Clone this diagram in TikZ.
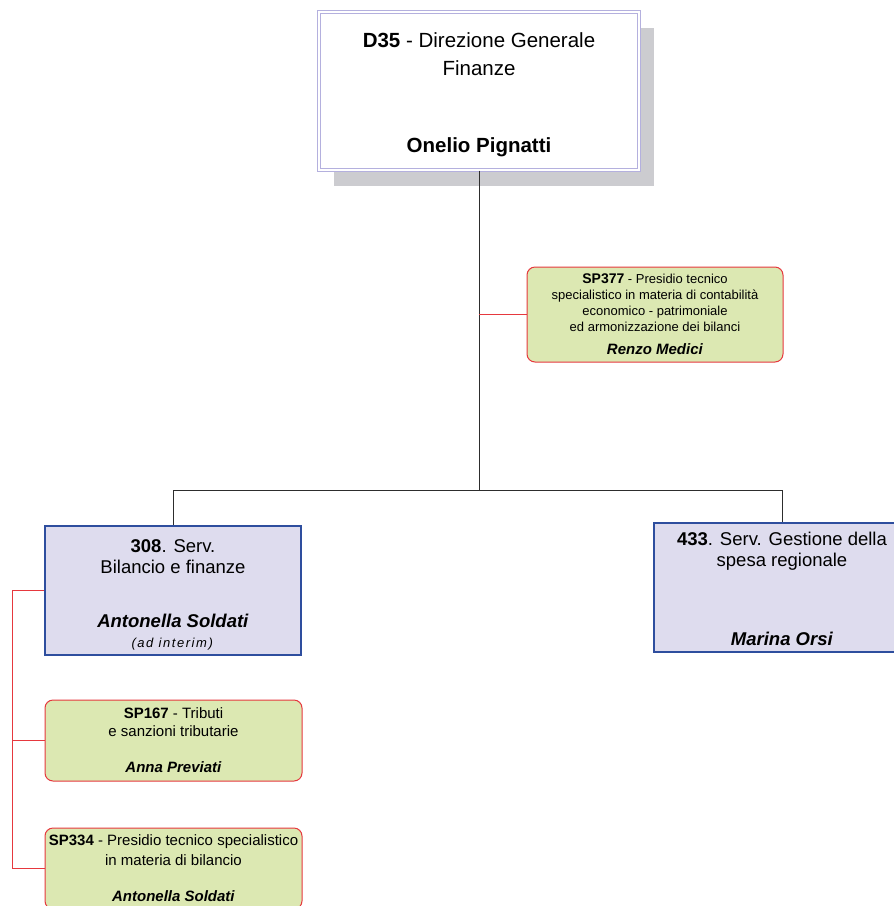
\documentclass[tikz,border=0pt]{standalone}
\usepackage{fontspec}
\setmainfont{Liberation Sans}
\usetikzlibrary{shadows}

\definecolor{dirline}{RGB}{180,176,222}
\definecolor{shadowgray}{RGB}{204,204,208}
\definecolor{servfill}{RGB}{222,220,238}
\definecolor{servline}{RGB}{46,78,158}
\definecolor{spfill}{RGB}{220,232,178}
\definecolor{spline}{RGB}{230,56,62}
\definecolor{linkgray}{RGB}{45,45,45}

\newcommand{\boxgap}[1]{\rule{0pt}{#1}}

\begin{document}
\begin{tikzpicture}[x=1pt, y=-1pt, align=center,
    dir node/.style={rectangle, draw=dirline, line width=1pt, double=white, double distance=2pt,
                     fill=white, minimum width=320pt, minimum height=158pt, inner sep=0pt,
                     drop shadow={shadow xshift=15pt, shadow yshift=-16pt, fill=shadowgray, opacity=1},
                     font=\fontsize{20.5}{28}\selectfont},
    serv node/.style={rectangle, draw=servline, line width=1.3pt, fill=servfill,
                      minimum width=256pt, minimum height=129pt, inner sep=0pt,
                      font=\fontsize{18.5}{21}\selectfont},
    sp node/.style={rectangle, rounded corners=8pt, draw=spline, line width=1pt, fill=spfill,
                    minimum width=257pt, minimum height=81pt, inner sep=0pt,
                    font=\fontsize{15}{19}\selectfont},
    link/.style={draw=linkgray, line width=0.9pt},
    red link/.style={draw=spline, line width=1pt}]

  \clip (0,0) rectangle (894,906);

  % top
  \node[dir node] (d35) at (479,91)
    {\boxgap{23pt}\textbf{D35} - Direzione Generale\\Finanze\\[49pt]\textbf{Onelio Pignatti}};

  \node[sp node, minimum width=256pt, minimum height=95pt, font=\fontsize{13}{15.7}\selectfont] (sp377) at (655,314.5)
    {{\fontsize{14}{15.7}\selectfont\textbf{SP377}} - Presidio tecnico\\
     specialistico in materia di contabilità\\economico - patrimoniale\\
     ed armonizzazione dei bilanci\\[8pt]{\fontsize{15}{15.7}\selectfont\textbf{\textit{Renzo Medici}}}};

  % services
  \node[serv node] (s308) at (173,590.5)
    {\boxgap{22.5pt}\textbf{308}. Serv.\\Bilancio e finanze\\[33pt]\textbf{\textit{Antonella Soldati}}\\[-1pt]
     {\fontsize{13}{14}\selectfont\addfontfeatures{LetterSpace=12}\textit{(ad interim)}}};
  \node[serv node] (s433) at (782,587.5)
    {\boxgap{17pt}\textbf{433}. Serv. Gestione della\\spesa regionale\\[58pt]\textbf{\textit{Marina Orsi}}};

  \node[sp node] (sp167) at (173.5,740.5)
    {\textbf{SP167} - Tributi\\[-1pt]e sanzioni tributarie\\[17pt]\textbf{\textit{Anna Previati}}};
  \node[sp node] (sp334) at (173.5,868.5)
    {\textbf{SP334} - Presidio tecnico specialistico\\[1pt]in materia di bilancio\\[17pt]\textbf{\textit{Antonella Soldati}}};

  % connectors
  \coordinate (hub) at (479,490);
  \draw[link] (d35.south) -- (hub);
  \draw[link] (hub) -| (s308.north);
  \draw[link] (hub) -| (s433.north);
  \draw[red link] (sp377.west) -- (sp377.west -| d35.south);

  \draw[red link] (s308.west) -- ++(-32,0) |- (sp334.west);
  \draw[red link] (sp167.west) -- ++(-32,0);
\end{tikzpicture}
\end{document}
